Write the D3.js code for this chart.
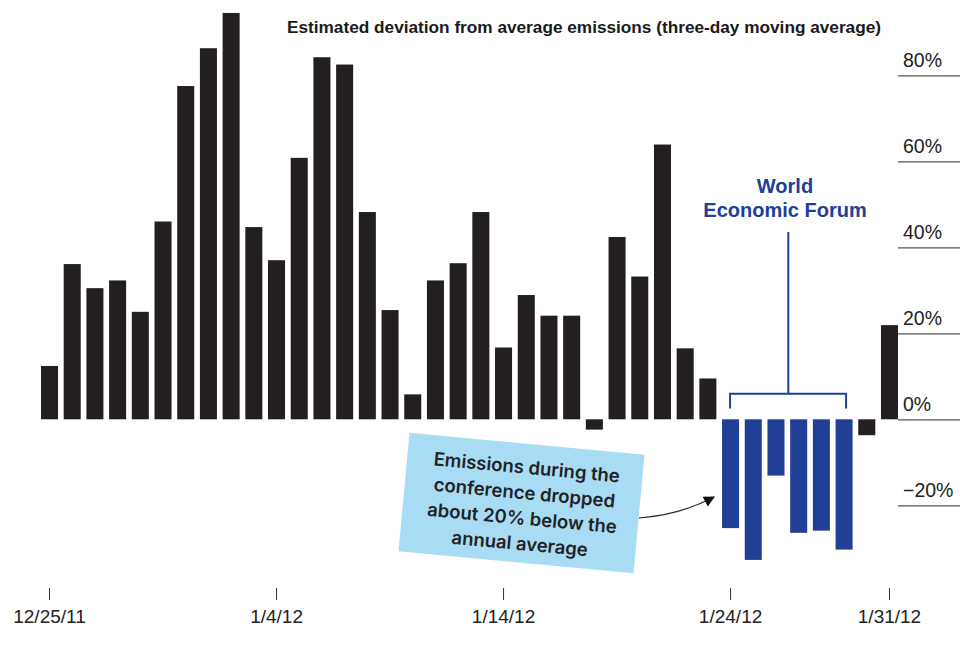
<!DOCTYPE html>
<html>
<head>
<meta charset="utf-8">
<script src="https://cdn.jsdelivr.net/npm/d3@7"></script>
<style>
  html, body { margin: 0; padding: 0; background: #fff; }
  svg { display: block; }
</style>
</head>
<body>
<svg id="chart" width="960" height="646"></svg>
<script>
// ---------- DATA ----------
const dates = [
  "12/25/11","12/26/11","12/27/11","12/28/11","12/29/11","12/30/11","12/31/11",
  "1/1/12","1/2/12","1/3/12","1/4/12","1/5/12","1/6/12","1/7/12","1/8/12","1/9/12",
  "1/10/12","1/11/12","1/12/12","1/13/12","1/14/12","1/15/12","1/16/12","1/17/12",
  "1/18/12","1/19/12","1/20/12","1/21/12","1/22/12","1/23/12","1/24/12","1/25/12",
  "1/26/12","1/27/12","1/28/12","1/29/12","1/30/12","1/31/12"
];
const values = [
  12.4, 36.1, 30.5, 32.3, 25.0, 46.0, 77.5, 86.3, 94.5, 44.7,
  37.0, 60.8, 84.2, 82.5, 48.2, 25.4, 5.8, 32.3, 36.3, 48.2,
  16.7, 28.9, 24.1, 24.1, -2.4, 42.4, 33.2, 63.9, 16.5, 9.5,
  -25.3, -32.7, -13.1, -26.4, -25.9, -30.3, -3.7, 21.9
];
const forumDates = ["1/24/12","1/25/12","1/26/12","1/27/12","1/28/12","1/29/12"];
const xTickLabels = ["12/25/11","1/4/12","1/14/12","1/24/12","1/31/12"];
const yTicks = [-20, 0, 20, 40, 60, 80];
const title = "Estimated deviation from average emissions (three-day moving average)";
const forumLabel = ["World", "Economic Forum"];
const noteLines = ["Emissions during the", "conference dropped", "about 20% below the", "annual average"];

// ---------- SETUP ----------
const svg = d3.select("#chart");
const BLACK = "#231f20", BLUE = "#213f96", NOTE_BG = "#a8dcf5";

const x = d3.scaleBand().domain(dates).range([41, 898]).paddingInner(0.25).paddingOuter(0);
const y = d3.scaleLinear().domain([-20, 80]).range([505.3, 75.3]);

// ---------- TITLE ----------
svg.append("text")
  .attr("x", 881).attr("y", 33)
  .attr("text-anchor", "end")
  .attr("textLength", 594)
  .attr("lengthAdjust", "spacingAndGlyphs")
  .style("font-family", "'Liberation Sans', Arial, sans-serif")
  .style("font-weight", "bold")
  .style("font-size", "16px")
  .attr("fill", "#1a1a1a")
  .text(title);

// ---------- Y AXIS (right) ----------
const yAxis = d3.axisRight(y).tickValues(yTicks).tickSize(62)
  .tickFormat(d => (d < 0 ? "\u2212" + Math.abs(d) : d) + "%");
const yg = svg.append("g").attr("transform", "translate(898,0)").call(yAxis);
yg.select(".domain").remove();
yg.selectAll(".tick line").attr("stroke", "#555").attr("stroke-width", 1.2);
yg.selectAll(".tick text")
  .attr("x", 5).attr("dy", "-0.45em").attr("text-anchor", "start")
  .style("font-family", "'Liberation Sans', Arial, sans-serif")
  .style("font-size", "19.5px")
  .attr("fill", "#222");

// ---------- BARS ----------
svg.append("g").selectAll("rect")
  .data(dates.map((d, i) => ({ date: d, value: values[i] })))
  .join("rect")
  .attr("x", d => x(d.date))
  .attr("width", x.bandwidth())
  .attr("y", d => y(Math.max(0, d.value)))
  .attr("height", d => Math.abs(y(d.value) - y(0)))
  .attr("fill", d => forumDates.includes(d.date) ? BLUE : BLACK);

// ---------- X AXIS ----------
const xAxis = d3.axisBottom(x).tickValues(xTickLabels).tickSize(12).tickSizeOuter(0);
const xg = svg.append("g").attr("transform", "translate(0,588)").call(xAxis);
xg.select(".domain").remove();
xg.selectAll(".tick line").attr("stroke", "#333").attr("stroke-width", 1);
xg.selectAll(".tick text")
  .attr("y", 35).attr("dy", 0)
  .style("font-family", "'Liberation Sans', Arial, sans-serif")
  .style("font-size", "19px")
  .attr("fill", "#222");

// ---------- WORLD ECONOMIC FORUM BRACKET ----------
const bx0 = x(forumDates[0]) + x.bandwidth() / 2 - 0.5;
const bx1 = x(forumDates[forumDates.length - 1]) + x.bandwidth() / 2 + 2;
const bTop = 393.7, bEnd = 408.5;
const bMid = 788.3;
svg.append("path")
  .attr("d", `M${bx0},${bEnd}V${bTop}H${bx1}V${bEnd}M${bMid},${bTop}V232`)
  .attr("fill", "none").attr("stroke", BLUE).attr("stroke-width", 2);
svg.append("g").selectAll("text").data(forumLabel).join("text")
  .attr("x", 785).attr("y", (d, i) => 193 + i * 24)
  .attr("text-anchor", "middle")
  .style("font-family", "'Liberation Sans', Arial, sans-serif")
  .style("font-weight", "bold")
  .style("font-size", "20px")
  .attr("fill", BLUE)
  .text(d => d);

// ---------- NOTE BOX ----------
const note = svg.append("g").attr("transform", "translate(521.5,503) rotate(5.3)");
note.append("rect")
  .attr("x", -118).attr("y", -59.5).attr("width", 236).attr("height", 119)
  .attr("fill", NOTE_BG);
note.selectAll("text").data(noteLines).join("text")
  .attr("x", 2).attr("y", (d, i) => -36 + i * 25.5 + 6.5)
  .attr("text-anchor", "middle")
  .style("font-family", "Inter, 'Liberation Sans', sans-serif")
  .style("font-weight", 600)
  .style("font-size", "18.5px")
  .attr("fill", "#222")
  .text(d => d);

// ---------- ARROW ----------
const defs = svg.append("defs");
defs.append("marker")
  .attr("id", "arrowhead")
  .attr("viewBox", "0 0 10 10")
  .attr("refX", 9).attr("refY", 5)
  .attr("markerWidth", 15).attr("markerHeight", 11)
  .attr("markerUnits", "userSpaceOnUse")
  .attr("orient", "auto")
  .append("path").attr("d", "M0,0L10,5L0,10Z").attr("fill", "#111");
svg.append("path")
  .attr("d", "M639,518 Q680,515 714,497")
  .attr("fill", "none").attr("stroke", "#222").attr("stroke-width", 1.2)
  .attr("marker-end", "url(#arrowhead)");
</script>
</body>
</html>
